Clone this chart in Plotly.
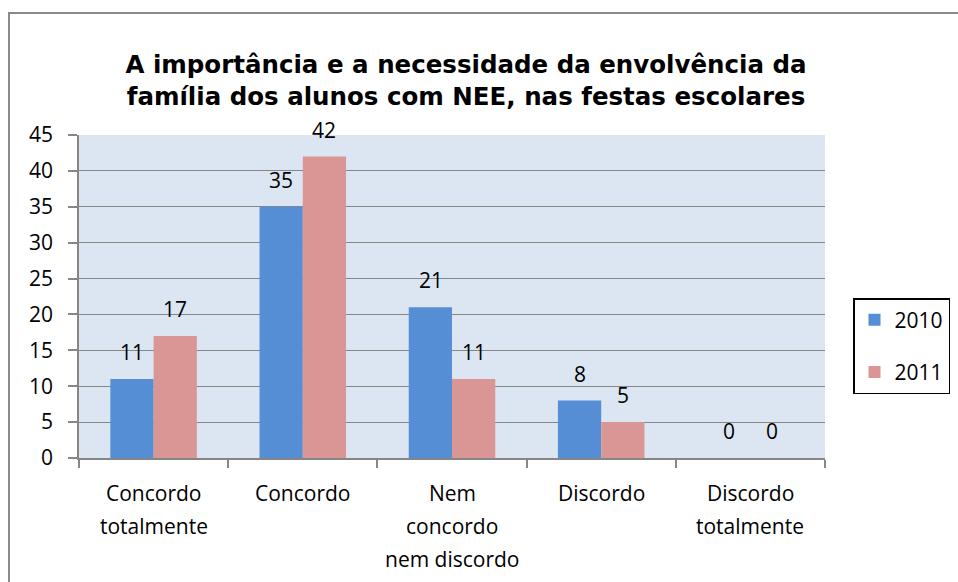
import plotly.graph_objects as go

categories = ["Concordo totalmente", "Concordo", "Nem concordo nem discordo", "Discordo", "Discordo totalmente"]
cat_labels = [["Concordo", "totalmente"], ["Concordo"], ["Nem", "concordo", "nem discordo"], ["Discordo"], ["Discordo", "totalmente"]]
series_names = ["2010", "2011"]
values_2010 = [11, 35, 21, 8, 0]
values_2011 = [17, 42, 11, 5, 0]
y_ticks = [0, 5, 10, 15, 20, 25, 30, 35, 40, 45]

title_text = "A importância e a necessidade da envolvência da<br>família dos alunos com NEE, nas festas escolares"

BLUE = "#558ED5"
PINK = "#D99694"
GRID = "#868686"
BODY_FONT = "Open Sans"

PL, PR, PT, PB = 79, 825, 135, 458  # plot area in pixels
W, H = 958, 582
PW, PH = PR - PL, PB - PT


def px_x(x):
    return (x - PL) / PW


def px_y(y):
    return (PB - y) / PH


fig = go.Figure()
for name, vals, col in [(series_names[0], values_2010, BLUE), (series_names[1], values_2011, PINK)]:
    fig.add_trace(go.Bar(
        x=categories, y=vals, name=name, marker_color=col,
        marker_line_width=0, legendgroup=name,
    ))

annotations = []
# data labels
for vals, shift in [(values_2010, -21.5), (values_2011, 21.5)]:
    for c, v in zip(categories, vals):
        annotations.append(dict(
            x=c, y=v, xref="x", yref="y", text=str(v), showarrow=False,
            xshift=shift, yshift=27, yanchor="middle",
            font=dict(family=BODY_FONT, size=21, color="black"),
        ))
# category labels (line by line, Excel spacing)
for c, lines in zip(categories, cat_labels):
    for j, ln in enumerate(lines):
        annotations.append(dict(
            x=c, y=0, xref="x", yref="paper", text=ln, showarrow=False,
            yanchor="middle", yshift=-(35 + 33 * j),
            font=dict(family=BODY_FONT, size=21, color="black"),
        ))

fig.update_layout(
    width=W, height=H,
    margin=dict(l=PL, r=W - PR, t=PT, b=H - PB, autoexpand=False),
    paper_bgcolor="white", plot_bgcolor="#DCE6F2",
    barmode="group", bargap=0.42, bargroupgap=0,
    title=dict(text=title_text, x=466 / W, xanchor="center", xref="container",
               y=1 - 73 / H, yanchor="top", yref="container",
               font=dict(family="DejaVu Sans", size=24.5, color="black", weight="bold")),
    font=dict(family=BODY_FONT, size=21, color="black"),
    legend=dict(x=px_x(853), y=px_y(298), xanchor="left", yanchor="top",
                bordercolor="black", borderwidth=1.5, bgcolor="white",
                traceorder="grouped", tracegroupgap=22,
                font=dict(family=BODY_FONT, size=21, color="black")),
    annotations=annotations,
    shapes=[dict(type="rect", xref="paper", yref="paper",
                 x0=px_x(9), x1=px_x(990),
                 y0=px_y(620), y1=px_y(13),
                 line=dict(color="#898989", width=2), fillcolor="rgba(0,0,0,0)", layer="below")],
)
fig.update_yaxes(range=[0, 45], tickvals=y_ticks, showgrid=True, gridcolor=GRID, gridwidth=1.2,
                 showline=True, linecolor=GRID, linewidth=1.5, ticks="outside", ticklen=9,
                 tickcolor=GRID, tickwidth=1.5, ticklabelstandoff=11, zeroline=False,
                 tickfont=dict(family=BODY_FONT, size=21, color="black"))
fig.update_xaxes(showticklabels=False, showline=True, linecolor=GRID, linewidth=1.5,
                 ticks="outside", ticklen=8, tickcolor=GRID, tickwidth=1.5, tickson="boundaries",
                 showgrid=False)

fig.write_html(
    "out.html",
    config={"displayModeBar": False},
    post_script="document.body.style.margin='0';document.body.style.overflow='hidden';",
)
